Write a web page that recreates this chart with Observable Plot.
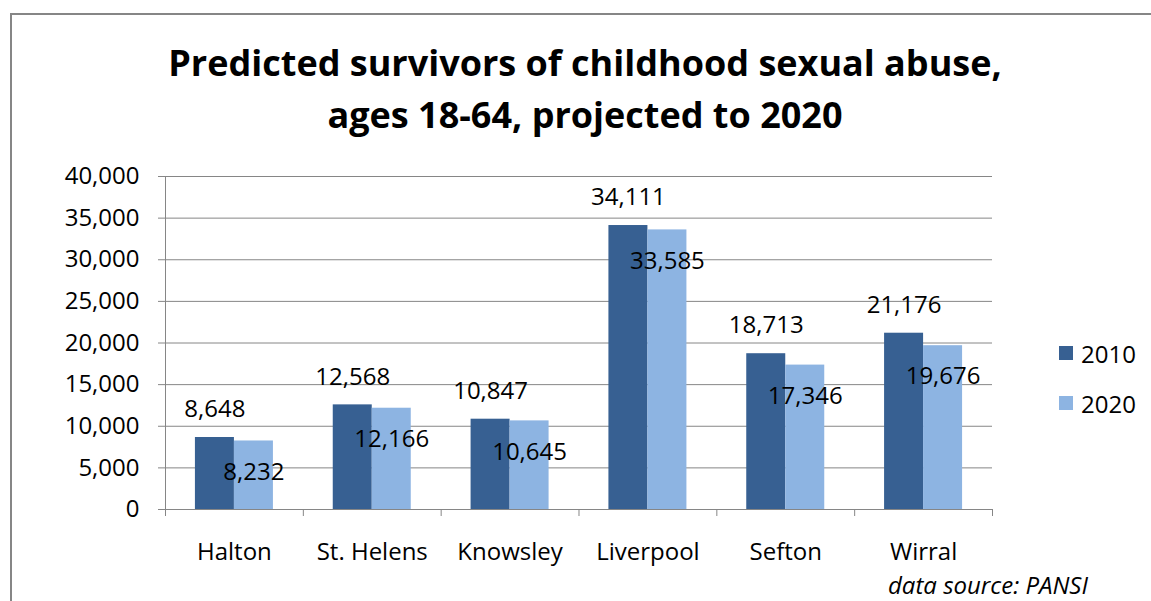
<!DOCTYPE html>
<html>
<head>
<meta charset="utf-8">
<script src="https://cdn.jsdelivr.net/npm/d3@7"></script>
<script src="https://cdn.jsdelivr.net/npm/@observablehq/plot@0.6"></script>
<style>
html, body { margin: 0; padding: 0; background: #fff; overflow: hidden; }
#wrap { position: relative; width: 1151px; height: 601px; overflow: hidden; background: #fff; }
#frame { position: absolute; left: 10px; top: 13px; width: 1200px; height: 700px; border: 2px solid #868686; box-sizing: border-box; }
#title { position: absolute; left: 0; width: 1170px; top: 37px; text-align: center; font-family: "Open Sans", sans-serif; font-weight: bold; font-size: 36px; line-height: 52px; color: #000; }
#chart { position: absolute; left: 0; top: 150px; }
.leg { position: absolute; left: 1059px; font-family: "Open Sans", sans-serif; font-size: 24px; color: #000; display: flex; align-items: center; height: 30px; }
.leg span.sw { display: inline-block; width: 14px; height: 14px; margin-right: 8px; }
#caption { position: absolute; left: 888px; top: 568px; font-family: "Open Sans", sans-serif; font-style: italic; font-size: 24px; color: #000; white-space: nowrap; }
</style>
</head>
<body>
<div id="wrap">
  <div id="frame"></div>
  <div id="title">Predicted survivors of childhood sexual abuse,<br>ages 18-64, projected to 2020</div>
  <div id="chart"></div>
  <div id="legend"></div>
  <div id="caption">data source: PANSI</div>
</div>
<script>
const categories = ["Halton", "St. Helens", "Knowsley", "Liverpool", "Sefton", "Wirral"];
const values2010 = [8648, 12568, 10847, 34111, 18713, 21176];
const values2020 = [8232, 12166, 10645, 33585, 17346, 19676];
const years = ["2010", "2020"];
const colors = ["#376092", "#8DB4E2"];
const yTicks = [0, 5000, 10000, 15000, 20000, 25000, 30000, 35000, 40000];

const W = 1151, H = 451;
const mL = 165, mR = 159, mT = 26, mB = 92;
const bw = (W - mL - mR) / categories.length;
const barW = 39;
const half = bw / 2;
const fmt = d3.format(",");

const d2010 = categories.map((c, i) => ({category: c, year: years[0], value: values2010[i]}));
const d2020 = categories.map((c, i) => ({category: c, year: years[1], value: values2020[i]}));
const gray = "#868686";

const chart = Plot.plot({
  width: W,
  height: H,
  marginLeft: mL,
  marginRight: mR,
  marginTop: mT,
  marginBottom: mB,
  style: {fontFamily: "'Open Sans', sans-serif", fontSize: "24px", background: "transparent", overflow: "visible"},
  x: {type: "band", domain: categories, padding: 0, round: false, axis: null, label: null},
  y: {domain: [0, 40000], axis: null, label: null},
  marks: [
    Plot.ruleY(yTicks, {y: d => d, stroke: gray, strokeWidth: 1}),
    Plot.barY(d2010, {x: "category", y: "value", fill: colors[0], insetLeft: half - barW, insetRight: half}),
    Plot.barY(d2020, {x: "category", y: "value", fill: colors[1], insetLeft: half, insetRight: half - barW}),
    // y axis line
    Plot.ruleX([categories[0]], {x: d => d, y1: 40000, y2: 0, dx: -half, stroke: gray, insetBottom: -7}),
    // category boundary ticks
    Plot.ruleX(categories, {x: d => d, y1: 0, y2: 0, dx: half, stroke: gray, insetBottom: -7}),
    Plot.axisY({ticks: yTicks, tickFormat: fmt, tickSize: 7, tickPadding: 19, stroke: gray, fill: "#000", fontSize: 24, label: null}),
    Plot.axisX({tickSize: 0, tickPadding: 33, fill: "#000", fontSize: 24, label: null}),
    Plot.text(d2010, {x: "category", y: "value", text: d => fmt(d.value), dx: -barW / 2, dy: -28, fill: "#000", fontSize: 24}),
    Plot.text(d2020, {x: "category", y: "value", text: d => fmt(d.value), dx: barW / 2, dy: 31, fill: "#000", fontSize: 24})
  ]
});
document.getElementById("chart").appendChild(chart);

const legend = document.getElementById("legend");
const legTops = [338, 388];
years.forEach((y, i) => {
  const el = document.createElement("div");
  el.className = "leg";
  el.style.top = legTops[i] + "px";
  el.innerHTML = `<span class="sw" style="background:${colors[i]}"></span>${y}`;
  legend.appendChild(el);
});
</script>
</body>
</html>
